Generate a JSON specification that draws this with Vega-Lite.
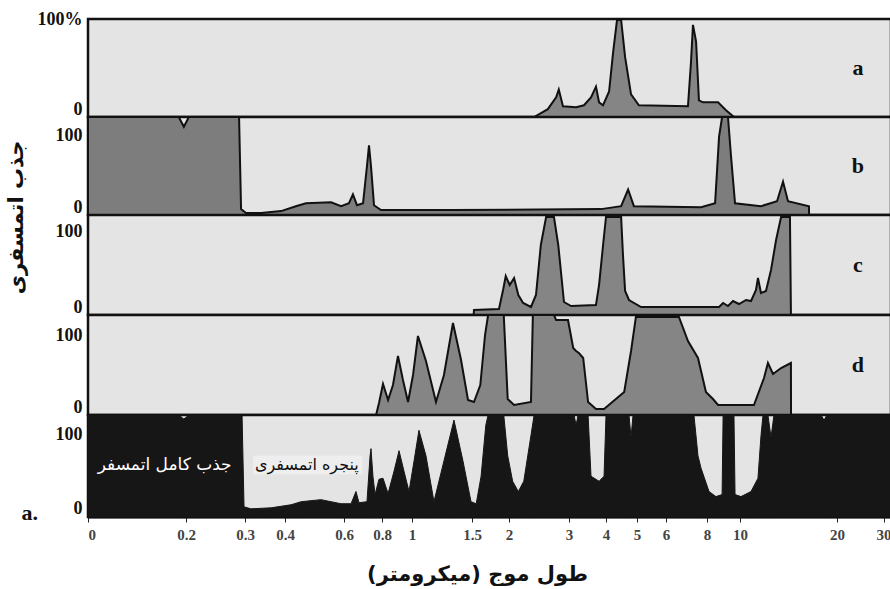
{
  "$schema": "https://vega.github.io/schema/vega-lite/v6.json",
  "background": "white",
  "padding": {"left": 3, "top": 8, "right": 0, "bottom": 0},
  "spacing": 0,
  "bounds": "flush",
  "config": {
    "view": {"fill": "#e4e4e4", "stroke": "#111111", "strokeWidth": 2.5},
    "axisY": {"labelFont": "Liberation Serif", "labelFontWeight": "bold", "labelFontSize": 18, "labelColor": "#111111", "ticks": false, "domain": false, "grid": false, "labelPadding": 6}
  },
  "datasets": {
    "a": [
      {"w": 2.37, "v": 0}, {"w": 2.6, "v": 8}, {"w": 2.75, "v": 20}, {"w": 2.8, "v": 28}, {"w": 2.88, "v": 11},
      {"w": 3.17, "v": 10}, {"w": 3.37, "v": 12}, {"w": 3.56, "v": 20}, {"w": 3.7, "v": 31}, {"w": 3.79, "v": 15},
      {"w": 3.91, "v": 12}, {"w": 4.09, "v": 26}, {"w": 4.21, "v": 66}, {"w": 4.33, "v": 99}, {"w": 4.46, "v": 99},
      {"w": 4.59, "v": 61}, {"w": 4.79, "v": 23}, {"w": 5.06, "v": 12}, {"w": 7.0, "v": 11}, {"w": 7.15, "v": 56},
      {"w": 7.25, "v": 94}, {"w": 7.41, "v": 77}, {"w": 7.56, "v": 17}, {"w": 7.78, "v": 15}, {"w": 8.62, "v": 15},
      {"w": 9.1, "v": 7}, {"w": 9.6, "v": 0}
    ],
    "b": [
      {"w": 0.1, "v": 100}, {"w": 0.19, "v": 100}, {"w": 0.197, "v": 90}, {"w": 0.204, "v": 100}, {"w": 0.288, "v": 100},
      {"w": 0.292, "v": 6}, {"w": 0.302, "v": 2}, {"w": 0.337, "v": 2}, {"w": 0.389, "v": 4}, {"w": 0.431, "v": 9},
      {"w": 0.462, "v": 12}, {"w": 0.549, "v": 13}, {"w": 0.588, "v": 9}, {"w": 0.623, "v": 12}, {"w": 0.642, "v": 21},
      {"w": 0.662, "v": 10}, {"w": 0.693, "v": 12}, {"w": 0.714, "v": 50}, {"w": 0.725, "v": 71}, {"w": 0.736, "v": 50},
      {"w": 0.753, "v": 10}, {"w": 0.794, "v": 5}, {"w": 1.3, "v": 5}, {"w": 3.85, "v": 6}, {"w": 4.46, "v": 9},
      {"w": 4.69, "v": 26}, {"w": 4.89, "v": 9}, {"w": 7.67, "v": 8}, {"w": 8.45, "v": 12}, {"w": 8.68, "v": 80},
      {"w": 8.86, "v": 100}, {"w": 9.22, "v": 100}, {"w": 9.41, "v": 60}, {"w": 9.67, "v": 12}, {"w": 11.62, "v": 9},
      {"w": 13.03, "v": 14}, {"w": 13.6, "v": 34}, {"w": 14.09, "v": 14}, {"w": 16.37, "v": 9}, {"w": 16.38, "v": 0}
    ],
    "c": [
      {"w": 1.52, "v": 0}, {"w": 1.523, "v": 5}, {"w": 1.85, "v": 6}, {"w": 1.91, "v": 25}, {"w": 1.95, "v": 39},
      {"w": 2.01, "v": 30}, {"w": 2.07, "v": 37}, {"w": 2.13, "v": 20}, {"w": 2.2, "v": 12}, {"w": 2.32, "v": 8},
      {"w": 2.4, "v": 20}, {"w": 2.48, "v": 70}, {"w": 2.57, "v": 98}, {"w": 2.71, "v": 98}, {"w": 2.79, "v": 70},
      {"w": 2.9, "v": 13}, {"w": 3.05, "v": 9}, {"w": 3.7, "v": 10}, {"w": 3.79, "v": 30}, {"w": 3.91, "v": 70},
      {"w": 4.0, "v": 98}, {"w": 4.46, "v": 98}, {"w": 4.52, "v": 60}, {"w": 4.59, "v": 24}, {"w": 4.72, "v": 15},
      {"w": 5.13, "v": 8}, {"w": 8.68, "v": 8}, {"w": 8.92, "v": 12}, {"w": 9.22, "v": 9}, {"w": 9.54, "v": 14},
      {"w": 9.93, "v": 11}, {"w": 10.44, "v": 15}, {"w": 10.82, "v": 14}, {"w": 11.21, "v": 25}, {"w": 11.37, "v": 37},
      {"w": 11.62, "v": 22}, {"w": 12.04, "v": 24}, {"w": 12.48, "v": 45}, {"w": 12.94, "v": 75}, {"w": 13.41, "v": 98},
      {"w": 14.29, "v": 98}, {"w": 14.39, "v": 0}
    ],
    "d": [
      {"w": 0.765, "v": 0}, {"w": 0.782, "v": 12}, {"w": 0.806, "v": 31}, {"w": 0.837, "v": 15}, {"w": 0.868, "v": 30},
      {"w": 0.901, "v": 59}, {"w": 0.935, "v": 35}, {"w": 0.971, "v": 13}, {"w": 1.007, "v": 40}, {"w": 1.041, "v": 79},
      {"w": 1.099, "v": 54}, {"w": 1.176, "v": 13}, {"w": 1.241, "v": 40}, {"w": 1.319, "v": 92}, {"w": 1.393, "v": 55},
      {"w": 1.46, "v": 15}, {"w": 1.523, "v": 13}, {"w": 1.6, "v": 30}, {"w": 1.66, "v": 80}, {"w": 1.7, "v": 100},
      {"w": 1.92, "v": 100}, {"w": 1.98, "v": 16}, {"w": 2.07, "v": 10}, {"w": 2.32, "v": 13}, {"w": 2.35, "v": 100},
      {"w": 2.71, "v": 100}, {"w": 2.75, "v": 95}, {"w": 2.98, "v": 95}, {"w": 3.1, "v": 67}, {"w": 3.17, "v": 64},
      {"w": 3.24, "v": 62}, {"w": 3.35, "v": 57}, {"w": 3.48, "v": 13}, {"w": 3.7, "v": 6}, {"w": 3.94, "v": 6},
      {"w": 4.56, "v": 23}, {"w": 4.79, "v": 64}, {"w": 4.96, "v": 98}, {"w": 6.57, "v": 98}, {"w": 7.0, "v": 74},
      {"w": 7.51, "v": 57}, {"w": 7.94, "v": 23}, {"w": 8.33, "v": 16}, {"w": 8.62, "v": 10}, {"w": 11.05, "v": 10},
      {"w": 11.87, "v": 37}, {"w": 12.21, "v": 52}, {"w": 12.66, "v": 41}, {"w": 13.41, "v": 47}, {"w": 14.39, "v": 52},
      {"w": 14.4, "v": 0}
    ],
    "total": [
      {"w": 0.1, "v": 100}, {"w": 0.19, "v": 100}, {"w": 0.197, "v": 96}, {"w": 0.204, "v": 100}, {"w": 0.294, "v": 100},
      {"w": 0.298, "v": 10}, {"w": 0.313, "v": 8}, {"w": 0.362, "v": 9}, {"w": 0.417, "v": 12}, {"w": 0.447, "v": 15},
      {"w": 0.512, "v": 17}, {"w": 0.588, "v": 13}, {"w": 0.633, "v": 13}, {"w": 0.657, "v": 25}, {"w": 0.672, "v": 14},
      {"w": 0.714, "v": 15}, {"w": 0.731, "v": 60}, {"w": 0.736, "v": 67}, {"w": 0.747, "v": 40}, {"w": 0.759, "v": 22},
      {"w": 0.782, "v": 37}, {"w": 0.806, "v": 38}, {"w": 0.837, "v": 23}, {"w": 0.875, "v": 45}, {"w": 0.908, "v": 65},
      {"w": 0.942, "v": 45}, {"w": 0.978, "v": 25}, {"w": 1.014, "v": 55}, {"w": 1.048, "v": 85}, {"w": 1.099, "v": 60},
      {"w": 1.16, "v": 15}, {"w": 1.241, "v": 55}, {"w": 1.328, "v": 95}, {"w": 1.411, "v": 55}, {"w": 1.49, "v": 15},
      {"w": 1.55, "v": 13}, {"w": 1.61, "v": 40}, {"w": 1.67, "v": 90}, {"w": 1.7, "v": 100}, {"w": 1.92, "v": 100},
      {"w": 1.98, "v": 60}, {"w": 2.05, "v": 35}, {"w": 2.13, "v": 25}, {"w": 2.21, "v": 35}, {"w": 2.32, "v": 80},
      {"w": 2.37, "v": 100}, {"w": 3.12, "v": 100}, {"w": 3.17, "v": 90}, {"w": 3.22, "v": 100}, {"w": 3.48, "v": 100},
      {"w": 3.56, "v": 40}, {"w": 3.79, "v": 35}, {"w": 3.94, "v": 40}, {"w": 4.0, "v": 100}, {"w": 4.72, "v": 100},
      {"w": 4.79, "v": 78}, {"w": 4.86, "v": 100}, {"w": 7.3, "v": 100}, {"w": 7.51, "v": 60}, {"w": 7.67, "v": 48},
      {"w": 8.11, "v": 25}, {"w": 8.5, "v": 20}, {"w": 8.86, "v": 22}, {"w": 8.92, "v": 100}, {"w": 9.6, "v": 100},
      {"w": 9.67, "v": 22}, {"w": 10.07, "v": 20}, {"w": 10.82, "v": 25}, {"w": 11.37, "v": 38}, {"w": 11.62, "v": 80},
      {"w": 11.79, "v": 100}, {"w": 12.21, "v": 100}, {"w": 12.48, "v": 78}, {"w": 12.75, "v": 100}, {"w": 17.84, "v": 100},
      {"w": 18.23, "v": 95}, {"w": 18.62, "v": 100}, {"w": 32, "v": 100}
    ]
  },
  "vconcat": [
    {
      "width": 803, "height": 98,
      "layer": [
        {
          "data": {"name": "a"},
          "mark": {"type": "area", "fill": "#858585", "stroke": "#111111", "strokeWidth": 2, "clip": true},
          "encoding": {
            "x": {"field": "w", "type": "quantitative", "axis": null, "scale": {"type": "log", "nice": false, "domain": [0.1, 0.2, 0.3, 0.4, 0.6, 0.8, 1, 1.5, 2, 3, 4, 5, 6, 8, 10, 20, 32], "range": [0, 98, 157, 197, 256, 294, 324, 384, 421, 481, 518, 549, 578, 619, 652, 749, 803]}},
            "y": {"field": "v", "type": "quantitative", "scale": {"domain": [0, 100], "nice": false},
              "axis": {"values": [0, 100], "title": null, "labelExpr": "datum.value == 100 ? '100%' : '0'",
                "labelBaseline": {"condition": {"test": "datum.value == 100", "value": "middle"}, "value": "bottom"},
                "labelOffset": {"condition": {"test": "datum.value == 100", "value": 0}, "value": 1}}}
          }
        },
        {
          "data": {"values": [{}]},
          "mark": {"type": "text", "font": "Liberation Serif", "fontWeight": "bold", "fontSize": 22, "color": "#111111"},
          "encoding": {"x": {"datum": 24, "type": "quantitative"}, "y": {"datum": 50, "type": "quantitative"}, "text": {"value": "a"}}
        }
      ]
    },
    {
      "width": 803, "height": 98,
      "layer": [
        {
          "data": {"name": "b"},
          "mark": {"type": "area", "fill": "#7d7d7d", "stroke": "#111111", "strokeWidth": 2, "clip": true},
          "encoding": {
            "x": {"field": "w", "type": "quantitative", "axis": null, "scale": {"type": "log", "nice": false, "domain": [0.1, 0.2, 0.3, 0.4, 0.6, 0.8, 1, 1.5, 2, 3, 4, 5, 6, 8, 10, 20, 32], "range": [0, 98, 157, 197, 256, 294, 324, 384, 421, 481, 518, 549, 578, 619, 652, 749, 803]}},
            "y": {"field": "v", "type": "quantitative", "scale": {"domain": [0, 100], "nice": false},
              "axis": {"values": [0, 100], "title": "جذب اتمسفری", "titleFont": "DejaVu Sans", "titleFontWeight": "bold", "titleFontSize": 21, "titleColor": "#111111",
                "titleAngle": 270, "titleX": -72, "titleY": 100, "titleAlign": "center", "titleBaseline": "middle",
                "labelBaseline": {"condition": {"test": "datum.value == 100", "value": "top"}, "value": "bottom"},
                "labelOffset": {"condition": {"test": "datum.value == 100", "value": 9}, "value": 1}}}
          }
        },
        {
          "data": {"values": [{}]},
          "mark": {"type": "text", "font": "Liberation Serif", "fontWeight": "bold", "fontSize": 22, "color": "#111111"},
          "encoding": {"x": {"datum": 24, "type": "quantitative"}, "y": {"datum": 50, "type": "quantitative"}, "text": {"value": "b"}}
        }
      ]
    },
    {
      "width": 803, "height": 100,
      "layer": [
        {
          "data": {"name": "c"},
          "mark": {"type": "area", "fill": "#858585", "stroke": "#111111", "strokeWidth": 2, "clip": true},
          "encoding": {
            "x": {"field": "w", "type": "quantitative", "axis": null, "scale": {"type": "log", "nice": false, "domain": [0.1, 0.2, 0.3, 0.4, 0.6, 0.8, 1, 1.5, 2, 3, 4, 5, 6, 8, 10, 20, 32], "range": [0, 98, 157, 197, 256, 294, 324, 384, 421, 481, 518, 549, 578, 619, 652, 749, 803]}},
            "y": {"field": "v", "type": "quantitative", "scale": {"domain": [0, 100], "nice": false},
              "axis": {"values": [0, 100], "title": null,
                "labelBaseline": {"condition": {"test": "datum.value == 100", "value": "top"}, "value": "bottom"},
                "labelOffset": {"condition": {"test": "datum.value == 100", "value": 7}, "value": 1}}}
          }
        },
        {
          "data": {"values": [{}]},
          "mark": {"type": "text", "font": "Liberation Serif", "fontWeight": "bold", "fontSize": 22, "color": "#111111"},
          "encoding": {"x": {"datum": 24, "type": "quantitative"}, "y": {"datum": 50, "type": "quantitative"}, "text": {"value": "c"}}
        }
      ]
    },
    {
      "width": 803, "height": 100,
      "layer": [
        {
          "data": {"name": "d"},
          "mark": {"type": "area", "fill": "#858585", "stroke": "#111111", "strokeWidth": 2, "clip": true},
          "encoding": {
            "x": {"field": "w", "type": "quantitative", "axis": null, "scale": {"type": "log", "nice": false, "domain": [0.1, 0.2, 0.3, 0.4, 0.6, 0.8, 1, 1.5, 2, 3, 4, 5, 6, 8, 10, 20, 32], "range": [0, 98, 157, 197, 256, 294, 324, 384, 421, 481, 518, 549, 578, 619, 652, 749, 803]}},
            "y": {"field": "v", "type": "quantitative", "scale": {"domain": [0, 100], "nice": false},
              "axis": {"values": [0, 100], "title": null,
                "labelBaseline": {"condition": {"test": "datum.value == 100", "value": "top"}, "value": "bottom"},
                "labelOffset": {"condition": {"test": "datum.value == 100", "value": 11}, "value": 1}}}
          }
        },
        {
          "data": {"values": [{}]},
          "mark": {"type": "text", "font": "Liberation Serif", "fontWeight": "bold", "fontSize": 22, "color": "#111111"},
          "encoding": {"x": {"datum": 24, "type": "quantitative"}, "y": {"datum": 50, "type": "quantitative"}, "text": {"value": "d"}}
        }
      ]
    },
    {
      "width": 803, "height": 102,
      "layer": [
        {
          "data": {"name": "total"},
          "mark": {"type": "area", "fill": "#161616", "stroke": "#161616", "strokeWidth": 1, "clip": true},
          "encoding": {
            "x": {"field": "w", "type": "quantitative", "scale": {"type": "log", "nice": false, "domain": [0.1, 0.2, 0.3, 0.4, 0.6, 0.8, 1, 1.5, 2, 3, 4, 5, 6, 8, 10, 20, 32], "range": [0, 98, 157, 197, 256, 294, 324, 384, 421, 481, 518, 549, 578, 619, 652, 749, 803]},
              "axis": {"values": [0.1, 0.2, 0.3, 0.4, 0.6, 0.8, 1, 1.5, 2, 3, 4, 5, 6, 8, 10, 20, 30],
                "labelExpr": "datum.value < 0.15 ? '0' : format(datum.value, '~g')",
                "labelFont": "Liberation Serif", "labelFontWeight": "bold", "labelFontSize": 15, "labelColor": "#444444", "labelOverlap": false, "labelPadding": 5,
                "tickColor": "#222222", "tickSize": 5, "domainColor": "#111111", "domainWidth": 2, "grid": false,
                "title": "طول موج (میکرومتر)", "titleFont": "DejaVu Sans", "titleFontWeight": "bold", "titleFontSize": 21, "titleColor": "#111111",
                "titleX": 389, "titleY": 57, "titleAlign": "center", "titleBaseline": "middle"}},
            "y": {"field": "v", "type": "quantitative", "scale": {"domain": [0, 100], "nice": false},
              "axis": {"values": [0, 100], "title": "a.", "titleFont": "Liberation Serif", "titleFontWeight": "bold", "titleFontSize": 22, "titleColor": "#111111",
                "titleAngle": 0, "titleX": -67, "titleY": 97, "titleAlign": "left", "titleBaseline": "middle",
                "labelBaseline": {"condition": {"test": "datum.value == 100", "value": "top"}, "value": "bottom"},
                "labelOffset": {"condition": {"test": "datum.value == 100", "value": 10}, "value": 0}}}
          }
        },
        {
          "data": {"values": [{}]},
          "mark": {"type": "rect", "fill": "#eeeeee"},
          "encoding": {"x": {"datum": 0.318, "type": "quantitative"}, "x2": {"datum": 0.69}, "y": {"datum": 42, "type": "quantitative"}, "y2": {"datum": 60}}
        },
        {
          "data": {"values": [{}]},
          "mark": {"type": "text", "font": "DejaVu Sans", "fontSize": 17, "color": "white"},
          "encoding": {"x": {"datum": 0.172, "type": "quantitative"}, "y": {"datum": 51, "type": "quantitative"}, "text": {"value": "جذب کامل اتمسفر"}}
        },
        {
          "data": {"values": [{}]},
          "mark": {"type": "text", "font": "DejaVu Sans", "fontSize": 16, "color": "#111111"},
          "encoding": {"x": {"datum": 0.465, "type": "quantitative"}, "y": {"datum": 51, "type": "quantitative"}, "text": {"value": "پنجره اتمسفری"}}
        }
      ]
    }
  ]
}
